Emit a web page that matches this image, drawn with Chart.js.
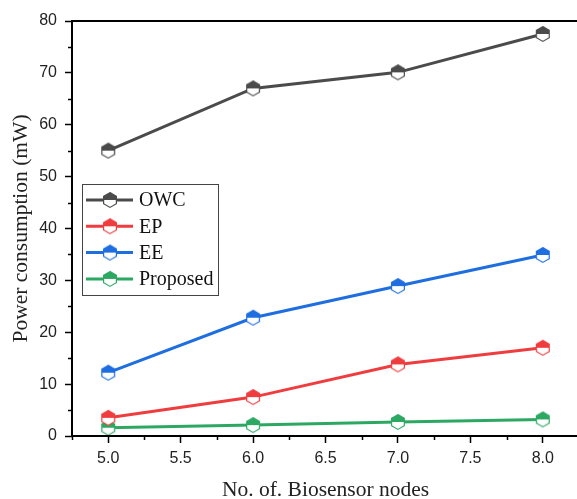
<!DOCTYPE html>
<html>
<head>
<meta charset="utf-8">
<script src="https://cdn.jsdelivr.net/npm/chart.js@4/dist/chart.umd.min.js"></script>
<style>
html,body{margin:0;padding:0;background:#fff;overflow:hidden;}
#wrap{width:590px;height:499px;}
</style>
</head>
<body>
<div id="wrap"><canvas id="c" width="590" height="499"></canvas></div>
<script>
const nodes = [5.0, 6.0, 7.0, 8.0];
const owc = [55.0, 67.0, 70.1, 77.5];
const ep = [3.5, 7.5, 13.8, 17.0];
const ee = [12.2, 22.8, 28.9, 34.9];
const proposed = [1.6, 2.1, 2.7, 3.2];
const seriesNames = ['OWC', 'EP', 'EE', 'Proposed'];
const seriesColors = ['#4b4b4b', '#ef3d3f', '#1f6ee0', '#2da863'];
const xTitle = 'No. of. Biosensor nodes';
const yTitle = 'Power consumption (mW)';

function hexMarker(color) {
  const s = 18, c = document.createElement('canvas');
  c.width = s; c.height = s;
  const g = c.getContext('2d');
  const cx = s / 2, cy = s / 2, r = 7.4, w = r * Math.cos(Math.PI / 6);
  const pts = [];
  for (let i = 0; i < 6; i++) {
    const a = -Math.PI / 2 + i * Math.PI / 3;
    pts.push([cx + r * Math.cos(a), cy + r * Math.sin(a)]);
  }
  g.beginPath(); pts.forEach((p, i) => i ? g.lineTo(p[0], p[1]) : g.moveTo(p[0], p[1])); g.closePath();
  g.fillStyle = '#fff'; g.fill();
  g.beginPath();
  g.moveTo(cx - w, cy); g.lineTo(cx - w, cy - r / 2); g.lineTo(cx, cy - r); g.lineTo(cx + w, cy - r / 2); g.lineTo(cx + w, cy); g.closePath();
  g.fillStyle = color; g.fill();
  g.beginPath(); pts.forEach((p, i) => i ? g.lineTo(p[0], p[1]) : g.moveTo(p[0], p[1])); g.closePath();
  g.strokeStyle = color; g.lineWidth = 1.2; g.stroke();
  return c;
}

const seriesData = [owc, ep, ee, proposed];
const markers = seriesColors.map(hexMarker);
const datasets = seriesNames.map((n, i) => ({
  label: n,
  data: nodes.map((x, j) => ({x: x, y: seriesData[i][j]})),
  borderColor: seriesColors[i],
  backgroundColor: seriesColors[i],
  borderWidth: 3,
  pointStyle: markers[i],
  pointRadius: 8,
  tension: 0
}));

const framePlugin = {
  id: 'frame',
  afterDraw(chart) {
    const {ctx, chartArea: a} = chart;
    const xs = chart.scales.x, ys = chart.scales.y;
    ctx.save();
    ctx.strokeStyle = '#000';
    ctx.lineWidth = 1.5;
    for (let v = 4.75; v <= 8.26; v += 0.5) {
      const px = Math.round(xs.getPixelForValue(v)) + 0.5;
      ctx.beginPath(); ctx.moveTo(px, a.bottom); ctx.lineTo(px, a.bottom + 4); ctx.stroke();
    }
    for (let v = 5; v < 80; v += 10) {
      const py = Math.round(ys.getPixelForValue(v)) + 0.5;
      ctx.beginPath(); ctx.moveTo(a.left, py); ctx.lineTo(a.left - 4, py); ctx.stroke();
    }
    ctx.lineWidth = 2;
    ctx.strokeRect(a.left, a.top, a.right - a.left, a.bottom - a.top);
    ctx.restore();
  }
};

const legendPlugin = {
  id: 'boxLegend',
  afterDatasetsDraw(chart) {
    const {ctx} = chart;
    const bx = 82.5, by = 184.5, bw = 136, bh = 111;
    ctx.save();
    ctx.fillStyle = '#fff';
    ctx.fillRect(bx, by, bw, bh);
    ctx.strokeStyle = '#444';
    ctx.lineWidth = 1;
    ctx.strokeRect(bx, by, bw, bh);
    ctx.font = '20px "Liberation Serif"';
    ctx.textBaseline = 'middle';
    chart.data.datasets.forEach((ds, i) => {
      const y = 200 + i * 26.3;
      ctx.strokeStyle = ds.borderColor;
      ctx.lineWidth = 3;
      ctx.beginPath(); ctx.moveTo(86, y); ctx.lineTo(133, y); ctx.stroke();
      const m = ds.pointStyle;
      ctx.drawImage(m, 110 - m.width / 2, y - m.height / 2);
      ctx.fillStyle = '#111';
      ctx.fillText(ds.label, 139, y + 1);
    });
    ctx.restore();
  }
};

new Chart(document.getElementById('c'), {
  type: 'line',
  data: {datasets: datasets},
  options: {
    responsive: false,
    devicePixelRatio: 1,
    animation: false,
    layout: {padding: {top: 21, right: 5, left: 0, bottom: 0}},
    plugins: {legend: {display: false}, tooltip: {enabled: false}},
    scales: {
      x: {
        type: 'linear', min: 4.75, max: 8.25,
        afterFit: s => { s.height = 63; },
        afterBuildTicks: s => {
          const t = [];
          for (let v = 5.0; v <= 8.0001; v += 0.5) t.push({value: Math.round(v * 10) / 10});
          s.ticks = t;
        },
        ticks: {
          callback: v => v.toFixed(1),
          font: {family: '"Liberation Sans"', size: 16},
          color: '#222', padding: 6, maxRotation: 0, autoSkip: false
        },
        grid: {drawOnChartArea: false, drawTicks: true, tickLength: 7, tickColor: '#000', tickWidth: 1.5},
        border: {display: false},
        title: {display: true, text: xTitle, font: {family: '"Liberation Serif"', size: 21.5, lineHeight: 0.8}, color: '#222', padding: {top: 0, bottom: 0}}
      },
      y: {
        min: 0, max: 80,
        afterFit: s => { s.width = 72; },
        ticks: {
          stepSize: 10,
          font: {family: '"Liberation Sans"', size: 16},
          color: '#222', padding: 8
        },
        grid: {drawOnChartArea: false, drawTicks: true, tickLength: 7, tickColor: '#000', tickWidth: 1.5},
        border: {display: false},
        title: {display: true, text: yTitle, font: {family: '"Liberation Serif"', size: 21.5, lineHeight: 1.2}, color: '#222', padding: {top: 8, bottom: 0}}
      }
    }
  },
  plugins: [legendPlugin, framePlugin]
});
</script>
</body>
</html>
